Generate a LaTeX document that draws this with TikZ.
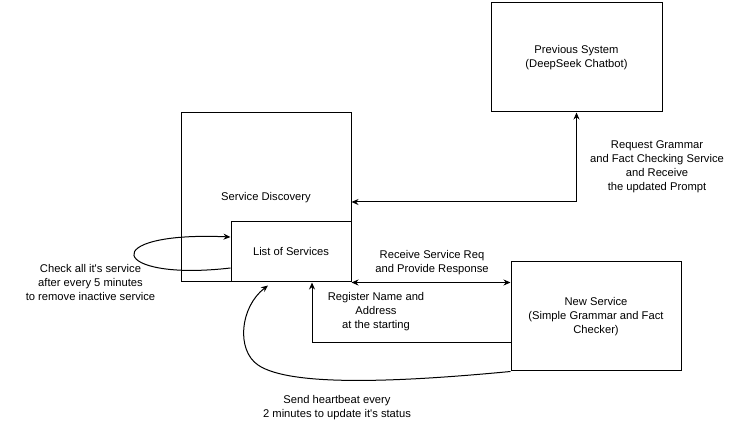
\documentclass[tikz,border=0pt]{standalone}
\usepackage{fontspec}
\setmainfont{Liberation Sans}
\usetikzlibrary{arrows.meta}

\begin{document}
\begin{tikzpicture}[x=1pt,y=1pt,
        font=\fontsize{11.2}{14}\selectfont,
        sysbox/.style={draw,rectangle,anchor=center,line width=1pt,align=center},
        txt/.style={align=center,anchor=center},
        link/.style={line width=1pt,-{Stealth[length=7pt,width=6pt]}},
        twoway/.style={line width=1pt,{Stealth[length=7pt,width=6pt]}-{Stealth[length=7pt,width=6pt]}}]
        \useasboundingbox (0,0) rectangle (743,427);
        % boxes
        \node[sysbox,minimum width=171,minimum height=109] (prev) at (576.5,369.5)
            {Previous System\\(DeepSeek Chatbot)};
        \node[sysbox,minimum width=170,minimum height=169] (disc) at (266,229.5)
            {Service Discovery};
        \node[sysbox,minimum width=120,minimum height=60,fill=white] (list) at (291,175)
            {List of Services};
        \node[sysbox,minimum width=170,minimum height=109] (newsvc) at (596,110.5)
            {New Service\\(Simple Grammar and Fact\\Checker)};
        % connectors
        \draw[twoway] ([yshift=-4.5]disc.east) -| (prev.south);
        \draw[twoway] (list.south east) -- (list.south east -| newsvc.west);
        \draw[link] ([yshift=-26.5]newsvc.west) -| ([xshift=21]list.south);
        \draw[link] (newsvc.south west) .. controls (400,45) and (290,40) .. (258,62)
            .. controls (236,77) and (240,120) .. ([xshift=-23,yshift=-3]list.south);
        \draw[link] ([yshift=-16]list.west) .. controls (110,145) and (95,196) .. ([yshift=15]list.west);
        % labels
        \node[txt] (reqlbl) at (657,260) {Request Grammar\\and Fact Checking Service\\and Receive\\the updated Prompt};
        \node[txt] (rcvlbl) at (432,164) {Receive Service Req\\and Provide Response};
        \node[txt] (reglbl) at (376,115) {Register Name and\\Address\\at the starting};
        \node[txt] (hblbl) at (337,19.5) {Send heartbeat every\\2 minutes to update it\textquotesingle s status};
        \node[txt] (chklbl) at (90.5,144) {Check all it\textquotesingle s service\\after every 5 minutes\\to remove inactive service};
    \end{tikzpicture}
\end{document}
